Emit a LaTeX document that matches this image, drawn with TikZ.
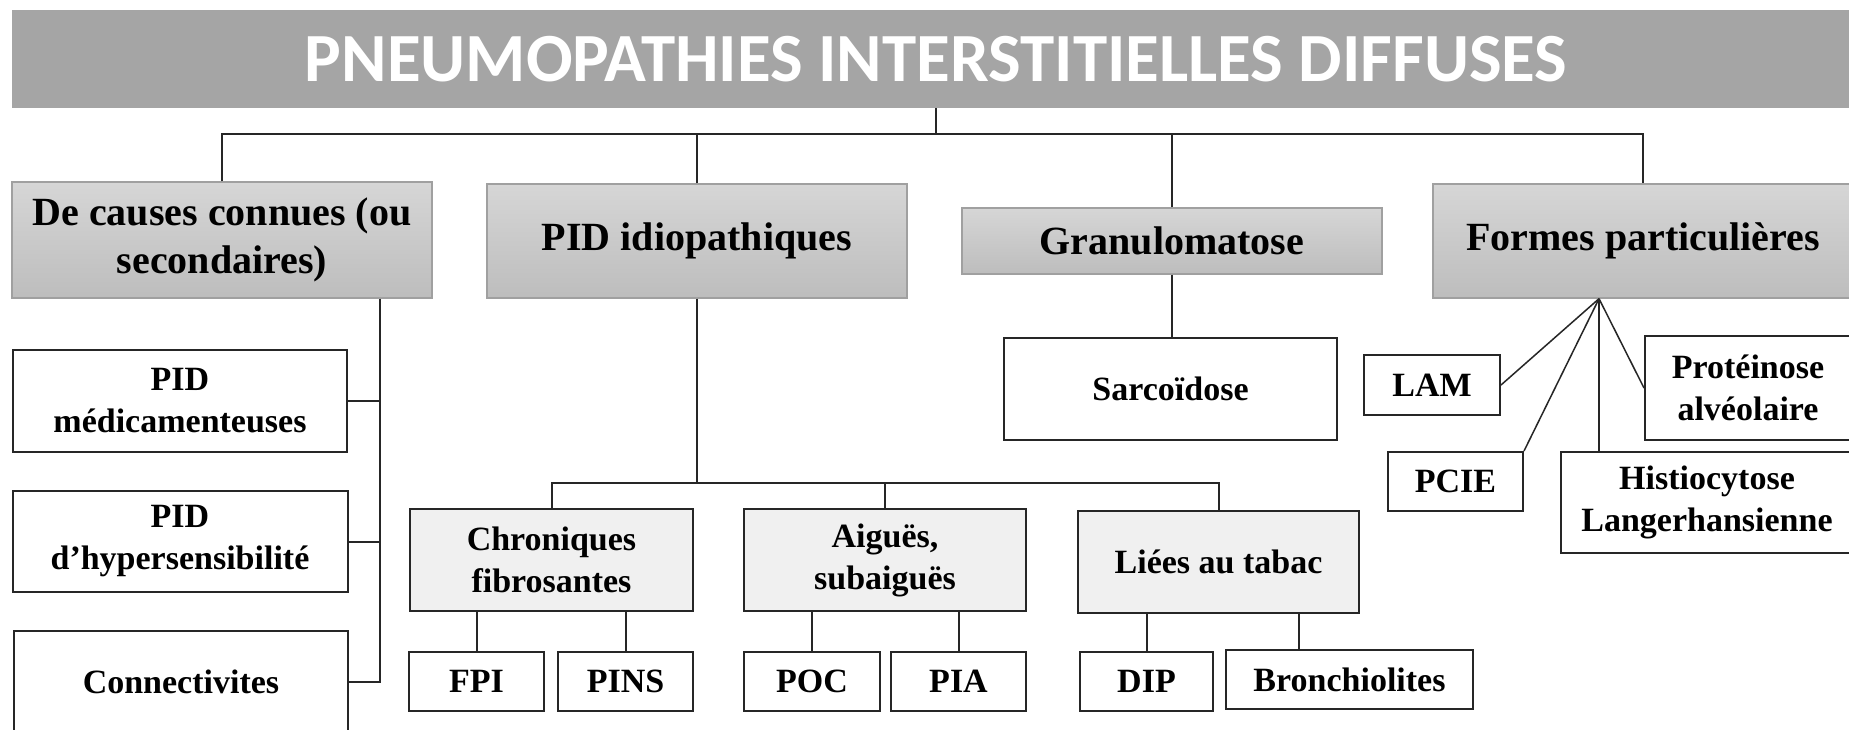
\documentclass[tikz,border=0pt]{standalone}
\usepackage{fontspec}
\setmainfont{Liberation Serif}
\newfontfamily\titlefont{Carlito}
\usetikzlibrary{calc}
\definecolor{barc}{HTML}{A5A5A5}
\definecolor{gtop}{HTML}{D6D6D6}
\definecolor{gbot}{HTML}{BDBDBD}
\definecolor{lightf}{HTML}{F0F0F0}
\definecolor{lvlborder}{HTML}{A0A0A0}
\begin{document}
\begin{tikzpicture}[x=1pt,y=-1pt,
  box/.style={draw=black!85, line width=2pt, fill=white, inner sep=0pt, align=center,
    font=\bfseries\fontsize{34}{42}\selectfont},
  lvlone/.style={draw=lvlborder, line width=1.4pt, top color=gtop, bottom color=gbot,
    inner sep=0pt, align=center, font=\bfseries\fontsize{40}{48}\selectfont},
  lvlthree/.style={box, fill=lightf},
  conn/.style={line width=2pt, draw=black!85},
  fan/.style={line width=1.5pt, draw=black!85}
  ]
\useasboundingbox (0,0) rectangle (1849,730);
\fill[white] (0,0) rectangle (1849,730);
\clip (0,0) rectangle (1849,730);

% title
\node[fill=barc, minimum width=1848pt, minimum height=98pt, inner sep=0pt, text=white,
  font=\titlefont\bfseries\fontsize{69}{80}\selectfont] (title) at (936,59)
  {PNEUMOPATHIES INTERSTITIELLES DIFFUSES};

% level 1
\node[lvlone, minimum width=420pt, minimum height=116pt] (cause) at (222,240) {De causes connues (ou\\secondaires)};
\node[lvlone, minimum width=420pt, minimum height=114pt] (idio) at (697,241) {PID idiopathiques};
\node[lvlone, minimum width=420pt, minimum height=66pt] (gran) at (1172,241) {Granulomatose};
\node[lvlone, minimum width=420pt, minimum height=114pt] (formes) at (1643,241) {Formes particulières};

% causes connues children
\node[box, minimum width=334pt, minimum height=102pt] (med) at (180,401) {PID\\médicamenteuses};
\node[box, minimum width=335pt, minimum height=101pt] (hyper) at (180,541.5) {PID\\d’hypersensibilité};
\node[box, minimum width=334pt, minimum height=102pt] (conn) at (181,682) {Connectivites};

% idiopathiques children
\node[lvlthree, minimum width=283pt, minimum height=102pt] (chron) at (551.5,560) {Chroniques\\fibrosantes};
\node[lvlthree, minimum width=282pt, minimum height=102pt] (aig) at (885,560) {Aiguës,\\subaiguës};
\node[lvlthree, minimum width=281pt, minimum height=102pt] (liees) at (1218.5,562) {Liées au tabac};

\node[box, minimum width=135pt, minimum height=59pt] (fpi) at (476.5,681.5) {FPI};
\node[box, minimum width=135pt, minimum height=59pt] (pins) at (625.5,681.5) {PINS};
\node[box, minimum width=136pt, minimum height=59pt] (poc) at (812,681.5) {POC};
\node[box, minimum width=135pt, minimum height=59pt] (pia) at (958.5,681.5) {PIA};
\node[box, minimum width=133pt, minimum height=59pt] (dip) at (1146.5,681.5) {DIP};
\node[box, minimum width=247pt, minimum height=59pt] (bronch) at (1349.5,679.5) {Bronchiolites};

% granulomatose child
\node[box, minimum width=333pt, minimum height=102pt] (sarc) at (1170.5,389) {Sarcoïdose};

% formes particulieres children
\node[box, minimum width=136pt, minimum height=60pt] (lam) at (1432,385) {LAM};
\node[box, minimum width=135pt, minimum height=59pt] (pcie) at (1455.5,481.5) {PCIE};
\node[box, minimum width=292pt, minimum height=101pt] (hist) at (1707,502.5) {Histiocytose\\Langerhansienne};
\node[box, minimum width=206pt, minimum height=104pt] (prot) at (1748,388) {Protéinose\\alvéolaire};

% connectors: root
\path (title.south) ++(0,26) coordinate (hub);
\draw[conn] (title.south) -- (hub);
\draw[conn] (cause.north) |- (hub) -| (formes.north);
\draw[conn] (idio.north) -- (idio.north |- hub);
\draw[conn] (gran.north) -- (gran.north |- hub);

% causes spine
\coordinate (cs) at ($(cause.south)+(158,0)$);
\draw[conn] (cs) |- (conn.east);
\draw[conn] (med.east) -- (med.east -| cs);
\draw[conn] (hyper.east) -- (hyper.east -| cs);

% idiopathiques
\path (idio.south) ++(0,184) coordinate (ih);
\draw[conn] (idio.south) -- (ih);
\draw[conn] (chron.north) |- (ih) -| (liees.north);
\draw[conn] (aig.north) -- (aig.north |- ih);
\draw[conn] (fpi.north) -- (fpi.north |- chron.south);
\draw[conn] (pins.north) -- (pins.north |- chron.south);
\draw[conn] (poc.north) -- (poc.north |- aig.south);
\draw[conn] (pia.north) -- (pia.north |- aig.south);
\draw[conn] (dip.north) -- (dip.north |- liees.south);
\coordinate (bt) at ($(bronch.north west)+(74,0)$);
\draw[conn] (bt) -- (bt |- liees.south);

% granulomatose
\draw[conn] (gran.south) -- (gran.south |- sarc.north);

% formes fan
\coordinate (apex) at ($(formes.south)+(-44,0)$);
\draw[fan] (apex) -- (lam.east);
\draw[fan] (apex) -- (pcie.north east);
\draw[fan] (apex) -- (apex |- hist.north);
\draw[fan] (apex) -- (prot.west);
\end{tikzpicture}
\end{document}
